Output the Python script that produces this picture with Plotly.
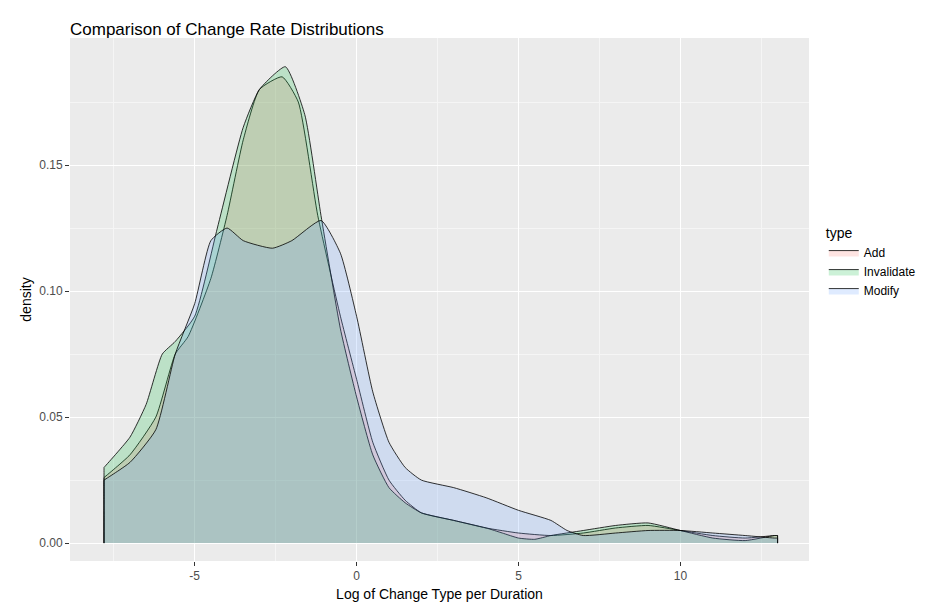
import plotly.graph_objects as go

add_x = [-7.8, -7, -6.2, -5.6, -5.2, -4.5, -4, -3.5, -3, -2.3, -1.8, -1.2, -0.5, 0, 0.5, 1, 1.5, 2, 3, 4, 5, 6, 7, 8, 9, 10, 11, 12, 12.9, 13]
add_y = [0.026, 0.035, 0.05, 0.075, 0.082, 0.105, 0.13, 0.16, 0.18, 0.185, 0.175, 0.13, 0.09, 0.065, 0.04, 0.025, 0.017, 0.012, 0.009, 0.006, 0.004, 0.003, 0.004, 0.006, 0.007, 0.005, 0.003, 0.002, 0.003, 0.003]

inv_x = [-7.8, -7, -6.5, -6, -5.6, -5, -4.3, -3.5, -3, -2.2, -1.6, -1.1, -0.5, 0, 0.5, 1, 1.5, 2, 3, 4, 4.5, 5, 5.5, 6, 7, 8, 9, 10, 11, 12, 12.9, 13]
inv_y = [0.030, 0.042, 0.055, 0.075, 0.080, 0.09, 0.125, 0.165, 0.18, 0.189, 0.17, 0.13, 0.085, 0.058, 0.035, 0.022, 0.016, 0.012, 0.009, 0.006, 0.004, 0.002, 0.0015, 0.003, 0.005, 0.007, 0.008, 0.005, 0.002, 0.001, 0.003, 0.003]

mod_x = [-7.8, -7, -6.2, -5.6, -5, -4.5, -4, -3.5, -2.6, -2, -1.1, -0.5, 0, 0.5, 1, 1.5, 2, 3, 4, 5, 6, 6.5, 7, 8, 9, 10, 11, 12, 12.9, 13]
mod_y = [0.025, 0.032, 0.045, 0.075, 0.095, 0.12, 0.125, 0.12, 0.117, 0.12, 0.128, 0.115, 0.09, 0.06, 0.04, 0.03, 0.025, 0.022, 0.018, 0.013, 0.009, 0.005, 0.003, 0.004, 0.005, 0.005, 0.004, 0.003, 0.002, 0.002]

series = [
    ("Add", add_x, add_y, "rgba(248,118,109,0.2)"),
    ("Invalidate", inv_x, inv_y, "rgba(0,186,56,0.2)"),
    ("Modify", mod_x, mod_y, "rgba(97,156,255,0.2)"),
]

fig = go.Figure()
for name, xs, ys, col in series:
    # closed polygon: curve plus straight drops to the baseline at both ends
    px = [xs[0], xs[0], xs[0]] + xs + [xs[-1], xs[-1], xs[-1]]
    py = [0, ys[0] * 0.5, ys[0]] + ys + [ys[-1], ys[-1] * 0.5, 0]
    fig.add_trace(go.Scatter(
        x=px, y=py, name=name,
        fill="toself", fillcolor=col, mode="lines",
        line=dict(color="black", width=0.8, shape="spline", smoothing=0.5),
    ))

fig.update_layout(
    width=925, height=604,
    font=dict(family="Liberation Sans, Arial, sans-serif", size=12, color="#4d4d4d"),
    title=dict(text="Comparison of Change Rate Distributions", x=62 / 925, xref="container",
               y=0.975, yref="container", font=dict(size=17, color="black")),
    plot_bgcolor="#EBEBEB", paper_bgcolor="white",
    margin=dict(l=62, r=118, t=30, b=51),
    legend=dict(title=dict(text="type", font=dict(size=14, color="black")),
                x=1.02, y=0.57, yanchor="middle", font=dict(color="black")),
    xaxis=dict(range=[-8.85, 13.97], tickvals=[-5, 0, 5, 10], ticktext=["-5", "0", "5", "10"],
               showgrid=True, automargin=False,
               gridcolor="white", gridwidth=1.2, zeroline=False,
               minor=dict(tickvals=[-7.5, -2.5, 2.5, 7.5, 12.5], gridcolor="#F5F5F5", gridwidth=0.6),
               ticks="outside", ticklen=4, tickcolor="#333",
               title=dict(text="Log of Change Type per Duration", standoff=6,
                          font=dict(size=14, color="black"))),
    yaxis=dict(range=[-0.0071, 0.2004], tickvals=[0, 0.05, 0.10, 0.15],
               ticktext=["0.00", "0.05", "0.10", "0.15"], gridcolor="white", gridwidth=1.2,
               zeroline=False, automargin=False,
               minor=dict(tickvals=[0.025, 0.075, 0.125, 0.175], gridcolor="#F5F5F5", gridwidth=0.6),
               ticks="outside", ticklen=4, tickcolor="#333",
               title=dict(text="density", standoff=4, font=dict(size=14, color="black"))),
)

fig.write_html("out.html")
